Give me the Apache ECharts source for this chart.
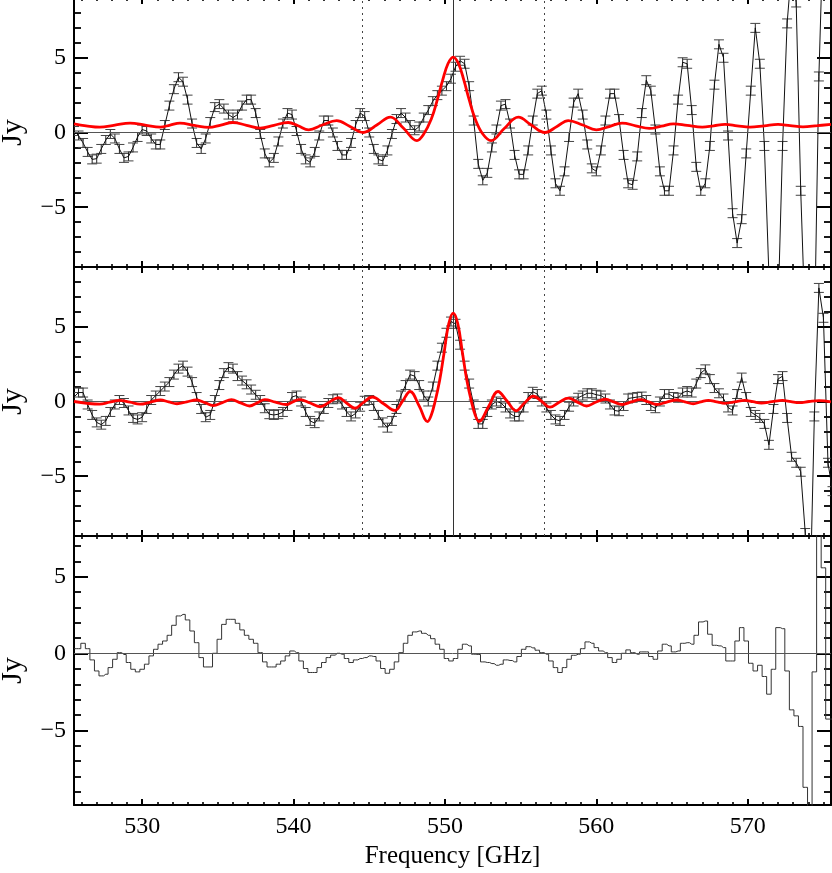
<!DOCTYPE html>
<html><head><meta charset="utf-8">
<script src="https://cdn.jsdelivr.net/npm/echarts@6/dist/echarts.min.js"></script>
<style>html,body{margin:0;padding:0;background:#fff}#c{width:832px;height:873px}</style>
</head><body><div id="c"></div>
<script>
// ---------- data (GHz / Jy) ----------
const freq = [
525.5, 525.8, 526.1, 526.4, 526.7, 527.0, 527.3, 527.6, 527.9, 528.2,
528.5, 528.8, 529.1, 529.4, 529.7, 530.0, 530.3, 530.6, 530.9, 531.2,
531.5, 531.8, 532.1, 532.4, 532.7, 533.0, 533.3, 533.6, 533.9, 534.2,
534.5, 534.8, 535.1, 535.4, 535.7, 536.0, 536.3, 536.6, 536.9, 537.2,
537.5, 537.8, 538.1, 538.4, 538.7, 539.0, 539.3, 539.6, 539.9, 540.2,
540.5, 540.8, 541.1, 541.4, 541.7, 542.0, 542.3, 542.6, 542.9, 543.2,
543.5, 543.8, 544.1, 544.4, 544.7, 545.0, 545.3, 545.6, 545.9, 546.2,
546.5, 546.8, 547.1, 547.4, 547.7, 548.0, 548.3, 548.6, 548.9, 549.2,
549.5, 549.8, 550.1, 550.4, 550.7, 551.0, 551.3, 551.6, 551.9, 552.2,
552.5, 552.8, 553.1, 553.4, 553.7, 554.0, 554.3, 554.6, 554.9, 555.2,
555.5, 555.8, 556.1, 556.4, 556.7, 557.0, 557.3, 557.6, 557.9, 558.2,
558.5, 558.8, 559.1, 559.4, 559.7, 560.0, 560.3, 560.6, 560.9, 561.2,
561.5, 561.8, 562.1, 562.4, 562.7, 563.0, 563.3, 563.6, 563.9, 564.2,
564.5, 564.8, 565.1, 565.4, 565.7, 566.0, 566.3, 566.6, 566.9, 567.2,
567.5, 567.8, 568.1, 568.4, 568.7, 569.0, 569.3, 569.6, 569.9, 570.2,
570.5, 570.8, 571.1, 571.4, 571.7, 572.0, 572.3, 572.6, 572.9, 573.2,
573.5, 573.8, 574.1, 574.4, 574.7, 575.0, 575.3, 575.6];

const fluxTop = [
0.1, -0.2, -0.7, -1.3, -1.8, -1.75, -1.1, -0.5, -0.1, -0.4,
-1.1, -1.7, -1.6, -1.0, -0.3, 0.2, 0.1, -0.4, -0.8, -0.8,
0.5, 1.8, 2.9, 3.7, 3.4, 2.2, 0.6, -0.7, -1.1, -0.4,
0.7, 1.7, 1.9, 1.6, 1.2, 1.0, 1.2, 1.8, 2.2, 2.2,
1.3, -0.1, -1.4, -2.0, -1.7, -0.6, 0.6, 1.3, 1.2, 0.1,
-1.1, -1.8, -2.0, -1.3, -0.2, 0.8, 0.8, 0.0, -0.9, -1.5,
-1.5, -0.7, 0.5, 1.3, 1.1, 0.0, -1.1, -1.8, -1.9, -1.2,
-0.1, 0.9, 1.3, 1.0, 0.5, 0.15, 0.4, 1.0, 1.5, 2.1,
2.5, 2.8, 3.1, 3.6, 4.4, 4.8, 4.6, 3.1, 0.8, -2.1,
-3.2, -2.7, -1.0, 0.2, 1.8, 1.9, 0.6, -1.5, -2.8, -2.8,
-1.2, 0.8, 2.6, 2.8, 1.2, -1.2, -3.4, -3.9, -2.6, -0.3,
2.0, 2.6, 1.2, -0.8, -2.4, -2.6, -1.2, 0.8, 2.6, 2.6,
0.9, -1.5, -3.4, -3.5, -1.6, 1.3, 3.5, 2.8, 0.2, -2.6,
-3.9, -3.9, -1.2, 2.2, 4.7, 4.6, 1.5, -2.3, -3.9, -3.4,
-0.9, 3.2, 5.9, 5.0, -0.2, -5.4, -7.4, -5.8, -1.4, 2.8,
7.0, 4.6, -0.9, -9.5, -13, -12, -0.9, 7.3, 11, 8.7,
-3.9, -13, -16, -14, 3.75, 14, 16, 10];

const fluxMid = [
0.3, 0.6, 0.6, -0.2, -0.9, -1.4, -1.55, -1.3, -0.7, -0.2,
0.1, -0.1, -0.6, -1.1, -1.2, -1.05, -0.5, 0.1, 0.4, 0.7,
1.0, 1.3, 1.8, 2.2, 2.4, 2.0, 1.3, 0.3, -0.5, -1.05,
-0.9, 0.1, 1.1, 1.9, 2.3, 2.2, 1.7, 1.4, 1.15, 0.8,
0.45, 0.1, -0.45, -0.85, -0.9, -0.85, -0.7, -0.3, 0.3, 0.4,
0.0, -0.7, -1.3, -1.45, -1.0, -0.5, -0.1, 0.15, 0.2, -0.2,
-0.7, -1.0, -0.8, -0.35, 0.05, 0.1, -0.3, -0.9, -1.4, -1.75,
-1.3, -0.5, 0.4, 1.1, 1.8, 1.7, 1.1, 0.4, 0.0, 1.0,
2.4, 3.6, 4.6, 5.35, 5.2, 3.8, 2.4, 1.2, -0.2, -1.5,
-1.5, -0.7, -0.2, 0.0, -0.1, -0.4, -0.8, -1.0, -1.0, -0.4,
0.3, 0.65, 0.5, 0.0, -0.4, -0.9, -1.2, -1.3, -0.9, -0.35,
0.0, 0.25, 0.4, 0.55, 0.55, 0.45, 0.4, 0.2, -0.2, -0.6,
-0.65, -0.3, 0.2, 0.25, 0.3, 0.33, 0.1, -0.3, -0.45, 0.0,
0.5, 0.5, 0.3, 0.25, 0.6, 0.7, 0.6, 1.2, 1.9, 2.15,
1.5, 0.9, 0.55, 0.2, -0.4, -0.6, 0.5, 1.6, 0.3, -0.7,
-0.9, -1.1, -1.5, -2.9, -0.5, 1.5, 1.7, -1.1, -3.7, -4.1,
-4.7, -8.8, -14, -1.0, 7.6, 5.6, -4.1, -6];

const residual = [
0.32, 0.32, 0.67, 0.32, -0.41, -1.13, -1.45, -1.34, -0.91, -0.37,
0.06, -0.06, -0.58, -1.02, -1.19, -1.02, -0.69, -0.15, 0.28, 0.61,
0.82, 1.19, 1.84, 2.45, 2.55, 2.19, 1.47, 0.71, -0.26, -0.87,
-0.87, 0.02, 0.93, 1.9, 2.23, 2.23, 1.97, 1.54, 1.19, 0.93,
0.67, 0.06, -0.54, -0.87, -0.87, -0.69, -0.48, -0.15, 0.17, 0.06,
-0.48, -0.97, -1.23, -1.23, -0.91, -0.58, -0.26, -0.1, 0.02, -0.04,
-0.32, -0.58, -0.41, -0.32, -0.26, -0.15, -0.19, -0.48, -0.97, -1.28,
-1.02, -0.54, 0.06, 0.67, 1.19, 1.41, 1.47, 1.32, 1.19, 0.97,
0.61, 0.28, -0.32, -0.48, -0.32, 0.28, 0.61, 0.5, -0.04, -0.06,
-0.54, -0.58, -0.65, -0.76, -0.69, -0.41, -0.45, -0.54, -0.19, 0.28,
0.45, 0.37, 0.22, 0.06, -0.04, -0.48, -0.91, -1.23, -0.91, -0.37,
-0.11, -0.04, 0.32, 0.76, 0.67, 0.39, 0.17, 0.06, -0.26, -0.58,
-0.37, 0.02, 0.24, 0.06, -0.04, 0.11, 0.11, -0.19, -0.37, 0.17,
0.61, 0.5, 0.11, 0.17, 0.67, 0.71, 0.61, 1.19, 2.06, 2.12,
1.26, 0.54, 0.5, 0.39, -0.48, -0.48, 0.82, 1.69, 0.82, -0.63,
-1.13, -0.76, -1.49, -2.64, -1.02, 1.69, 1.62, -1.13, -3.66, -4.05,
-4.74, -8.7, -11, -1.19, 8.0, 5.58, -4.26, -4.26];

const fitTopFreq = [525.5, 526.3, 527.2, 528.2, 529.2, 530.2, 531.2, 531.85, 532.5, 533.45,
534.4, 535.2, 536.0, 536.9, 537.8, 538.7, 539.65, 540.3, 541.0, 541.9,
542.85, 543.7, 544.6, 545.5, 546.4, 547.25, 548.15, 548.6, 549.1, 549.5,
549.85, 550.2, 550.55, 550.9, 551.25, 551.6, 552.0, 552.5, 553.05, 553.9,
554.85, 555.7, 556.6, 557.4, 558.15, 559.1, 560.0, 560.85, 561.7, 562.6,
563.5, 564.3, 565.1, 566.0, 567.0, 567.75, 568.5, 569.3, 570.15, 571.1,
572.0, 572.8, 573.65, 574.6, 575.5];
const fitTop = [0.58, 0.45, 0.36, 0.5, 0.63, 0.5, 0.36, 0.5, 0.63, 0.48,
0.34, 0.5, 0.67, 0.48, 0.29, 0.48, 0.67, 0.45, 0.18, 0.5,
0.8, 0.42, 0.0, 0.5, 1.03, 0.3, -0.54, -0.1, 0.9, 2.2,
3.5, 4.6, 5.05, 4.6, 3.5, 2.2, 0.9, -0.1, -0.54, 0.25,
1.03, 0.5, 0.0, 0.4, 0.8, 0.5, 0.18, 0.4, 0.63, 0.45,
0.27, 0.42, 0.58, 0.47, 0.36, 0.45, 0.54, 0.45, 0.36, 0.45,
0.54, 0.46, 0.38, 0.46, 0.54];

const fitMidFreq = [525.5, 526.35, 527.2, 527.85, 528.5, 529.2, 529.86, 530.55, 531.2, 531.75,
532.3, 532.95, 533.6, 534.15, 534.7, 535.3, 535.9, 536.5, 537.1, 537.6,
538.1, 538.8, 539.5, 539.95, 540.4, 541.1, 541.75, 542.35, 542.96, 543.5,
544.06, 544.6, 545.2, 545.95, 546.7, 547.2, 547.7, 548.3, 548.85, 549.1,
549.35, 549.65, 549.95, 550.25, 550.55, 550.85, 551.15, 551.45, 551.75, 552.0,
552.25, 552.9, 553.5, 554.1, 554.7, 555.25, 555.84, 556.4, 556.94, 557.55,
558.15, 558.75, 559.36, 559.95, 560.6, 561.15, 561.7, 562.3, 562.9, 563.45,
564.0, 564.65, 565.3, 565.85, 566.4, 566.9, 567.4, 567.95, 568.5, 569.15,
569.8, 570.35, 570.9, 571.6, 572.3, 572.85, 573.4, 574.05, 574.7, 575.5];
const fitMid = [0.0, -0.12, -0.18, -0.05, 0.08, -0.05, -0.18, -0.04, 0.1, -0.03,
-0.15, -0.02, 0.1, -0.08, -0.27, -0.07, 0.12, -0.09, -0.3, -0.09,
0.12, -0.04, -0.2, -0.03, 0.13, -0.1, -0.35, -0.05, 0.25, -0.1,
-0.45, -0.08, 0.3, -0.15, -0.6, 0.03, 0.67, -0.3, -1.34, -0.9,
0.0, 1.4, 3.3, 5.2, 5.92, 5.2, 3.3, 1.4, 0.0, -0.9,
-1.34, -0.3, 0.67, 0.03, -0.62, -0.1, 0.35, 0.0, -0.38, -0.05,
0.22, -0.04, -0.3, -0.05, 0.15, -0.03, -0.2, -0.03, 0.13, -0.03,
-0.2, -0.04, 0.1, -0.02, -0.15, -0.03, 0.08, -0.02, -0.12, -0.02,
0.08, -0.01, -0.1, -0.01, 0.07, -0.01, -0.08, 0.0, 0.06, -0.03];

const errBar = 0.3;                 // Jy, half-length of the error bars
const lineCenter = 550.55;          // GHz, solid vertical line
const lineWindow = [544.55, 556.55];// GHz, dotted vertical lines
const xMajor = [530, 540, 550, 560, 570];
const xMinor = [526,527,528,529,531,532,533,534,535,536,537,538,539,541,542,543,544,545,546,547,548,549,
  551,552,553,554,555,556,557,558,559,561,562,563,564,565,566,567,568,569,571,572,573,574,575];
const yMajor = [-5, 0, 5];
const yMinor = [-9,-8,-7,-6,-4,-3,-2,-1,1,2,3,4,6,7,8];
const xRange = [525.5, 575.5];
const yRanges = [[-9, 9], [-9, 9], [-9.85, 7.65]];

// ---------- chart ----------
const FONT = '"Liberation Serif", "DejaVu Serif", serif';
const grids = [
  {left: 74, right: 1, top: -2, height: 269, outerBoundsMode: 'none', containLabel: false},
  {left: 74, right: 1, top: 267, height: 269, outerBoundsMode: 'none', containLabel: false},
  {left: 74, right: 1, top: 536, height: 269, outerBoundsMode: 'none', containLabel: false}
];
const minus = v => (v < 0 ? '\u2212' + (-v) : String(v));
const xAxes = [], yAxes = [];
for (let g = 0; g < 3; g++) {
  const [ymin, ymax] = yRanges[g];
  const yMin = yMinor.filter(v => v > ymin && v < ymax);
  ['bottom', 'top'].forEach(pos => {
    const isLabel = (g === 2 && pos === 'bottom');
    xAxes.push({
      type: 'value', gridIndex: g, position: pos, min: xRange[0], max: xRange[1],
      axisLine: {show: true, onZero: false, lineStyle: {color: '#000', width: 2}},
      axisTick: {show: true, inside: true, length: 6, customValues: xMajor, lineStyle: {color: '#000', width: 2}},
      axisLabel: {show: isLabel, customValues: xMajor, margin: 10, color: '#000', fontFamily: FONT, fontSize: 24},
      splitLine: {show: false},
      name: isLabel ? 'Frequency [GHz]' : '', nameLocation: 'middle', nameGap: 39,
      nameTextStyle: {color: '#000', fontFamily: FONT, fontSize: 25}
    });
    xAxes.push({
      type: 'value', gridIndex: g, position: pos, min: xRange[0], max: xRange[1],
      axisLine: {show: false, onZero: false},
      axisTick: {show: true, inside: true, length: 3, customValues: xMinor, lineStyle: {color: '#000', width: 1.6}},
      axisLabel: {show: false}, splitLine: {show: false}
    });
  });
  ['left', 'right'].forEach(pos => {
    const isLabel = pos === 'left';
    yAxes.push({
      type: 'value', gridIndex: g, position: pos, min: ymin, max: ymax,
      axisLine: {show: true, onZero: false, lineStyle: {color: '#000', width: 2}},
      axisTick: {show: true, inside: true, length: 14, customValues: yMajor, lineStyle: {color: '#000', width: 2}},
      axisLabel: {show: isLabel, customValues: yMajor, margin: 8, color: '#000', fontFamily: FONT, fontSize: 24, formatter: minus},
      splitLine: {show: false},
      name: isLabel ? 'Jy' : '', nameLocation: 'middle', nameGap: 46,
      nameTextStyle: {color: '#000', fontFamily: FONT, fontSize: 30}
    });
    yAxes.push({
      type: 'value', gridIndex: g, position: pos, min: ymin, max: ymax,
      axisLine: {show: false, onZero: false},
      axisTick: {show: true, inside: true, length: 7, customValues: yMin, lineStyle: {color: '#000', width: 1.8}},
      axisLabel: {show: false}, splitLine: {show: false}
    });
  });
}

const pairs = (xs, ys) => xs.map((x, i) => [x, ys[i]]);
const mlStyle = (c, t) => ({color: c, width: 1, type: t});
function markLines(withVerticals) {
  const d = [{yAxis: 0, lineStyle: mlStyle('#555', 'solid')}];
  if (withVerticals) {
    d.push({xAxis: lineCenter, lineStyle: mlStyle('#333', 'solid')});
    lineWindow.forEach(v => d.push({xAxis: v, lineStyle: mlStyle('#444', [2, 4])}));
  }
  return {silent: true, symbol: ['none', 'none'], label: {show: false}, animation: false, data: d};
}
function errorSeries(g, vals) {
  return {
    type: 'custom', xAxisIndex: 4 * g, yAxisIndex: 4 * g, clip: true, silent: true, z: 3,
    data: pairs(freq, vals),
    renderItem(params, api) {
      const x = api.value(0), y = api.value(1);
      const p1 = api.coord([x, y + errBar]), p2 = api.coord([x, y - errBar]);
      const w = 5;
      return {type: 'group', children: [
        {type: 'line', shape: {x1: p1[0], y1: p1[1], x2: p2[0], y2: p2[1]}, style: {stroke: '#222', lineWidth: 1}},
        {type: 'line', shape: {x1: p1[0] - w, y1: p1[1], x2: p1[0] + w, y2: p1[1]}, style: {stroke: '#444', lineWidth: 1}},
        {type: 'line', shape: {x1: p2[0] - w, y1: p2[1], x2: p2[0] + w, y2: p2[1]}, style: {stroke: '#444', lineWidth: 1}}
      ]};
    }
  };
}
const dataLine = (g, vals, extra) => Object.assign({
  type: 'line', xAxisIndex: 4 * g, yAxisIndex: 4 * g, data: pairs(freq, vals),
  symbol: 'none', lineStyle: {color: '#111', width: 1}, z: 4, silent: true
}, extra || {});
const fitLine = (g, xs, ys) => ({
  type: 'line', xAxisIndex: 4 * g, yAxisIndex: 4 * g, data: pairs(xs, ys),
  symbol: 'none', smooth: 0.4, lineStyle: {color: '#ff0000', width: 2.8}, z: 6, silent: true
});

const series = [
  errorSeries(0, fluxTop),
  dataLine(0, fluxTop, {markLine: markLines(true)}),
  fitLine(0, fitTopFreq, fitTop),
  errorSeries(1, fluxMid),
  dataLine(1, fluxMid, {markLine: markLines(true)}),
  fitLine(1, fitMidFreq, fitMid),
  dataLine(2, residual, {step: 'middle', lineStyle: {color: '#333', width: 1}, markLine: markLines(false)})
];

const chart = echarts.init(document.getElementById('c'), null, {renderer: 'canvas'});
chart.setOption({
  animation: false, backgroundColor: '#fff',
  grid: grids, xAxis: xAxes, yAxis: yAxes, series: series
});
</script></body></html>
